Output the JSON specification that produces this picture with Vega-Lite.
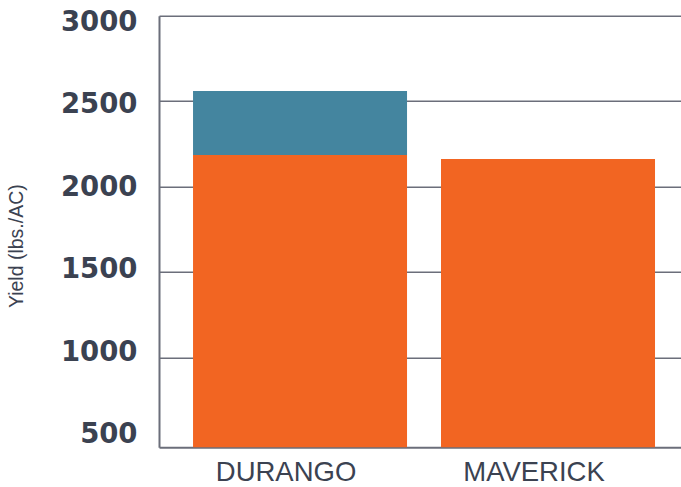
{
  "$schema": "https://vega.github.io/schema/vega-lite/v6.json",
  "autosize": "none",
  "width": 522,
  "height": 431.6,
  "padding": {"left": 159, "top": 15.7, "right": 0, "bottom": 40},
  "background": "white",
  "data": {"values": [
    {"variety": "DURANGO", "series": "Base", "yield": 2184},
    {"variety": "DURANGO", "series": "Additional", "yield": 375},
    {"variety": "MAVERICK", "series": "Base", "yield": 2161}
  ]},
  "mark": {"type": "bar", "clip": true},
  "encoding": {
    "x": {
      "field": "variety", "type": "nominal",
      "scale": {"paddingInner": 0.137, "paddingOuter": 0.121, "align": 0.567},
      "axis": {
        "title": null, "labelAngle": 0, "labelFont": "Liberation Sans", "labelFontSize": 27.5,
        "labelColor": "#3b4251", "ticks": false, "labelPadding": 11, "labelOffset": -14,
        "domainColor": "#6b6e7a", "domainWidth": 2, "grid": false
      }
    },
    "y": {
      "field": "yield", "type": "quantitative", "stack": "zero",
      "scale": {"domain": [473, 3000], "nice": false, "zero": false},
      "axis": {
        "title": "Yield (lbs./AC)", "titleFont": "Liberation Sans", "titleFontSize": 19.5,
        "titleFontWeight": "normal", "titleColor": "#3b4251", "titleAngle": -90,
        "titleX": -143, "titleY": 230, "titleAlign": "center", "titleBaseline": "middle",
        "values": [500, 1000, 1500, 2000, 2500, 3000], "format": "d",
        "labelFont": "DejaVu Sans", "labelFontWeight": "bold", "labelFontSize": 27.5,
        "labelColor": "#3b4251", "labelPadding": 22, "ticks": false,
        "labelBaseline": "middle",
        "labelOffset": {"expr": "-10.6 + 0.0058 * datum.value"},
        "domainColor": "#6b6e7a", "domainWidth": 2,
        "grid": true, "gridColor": "#6b6e7a", "gridWidth": 1.6,
        "gridOpacity": {"condition": {"test": "datum.value < 600", "value": 0}, "value": 1}
      }
    },
    "color": {
      "field": "series", "type": "nominal",
      "scale": {"domain": ["Base", "Additional"], "range": ["#F26522", "#44859F"]},
      "legend": null
    },
    "order": {"field": "series", "sort": "descending"}
  },
  "config": {"view": {"stroke": null}}
}
